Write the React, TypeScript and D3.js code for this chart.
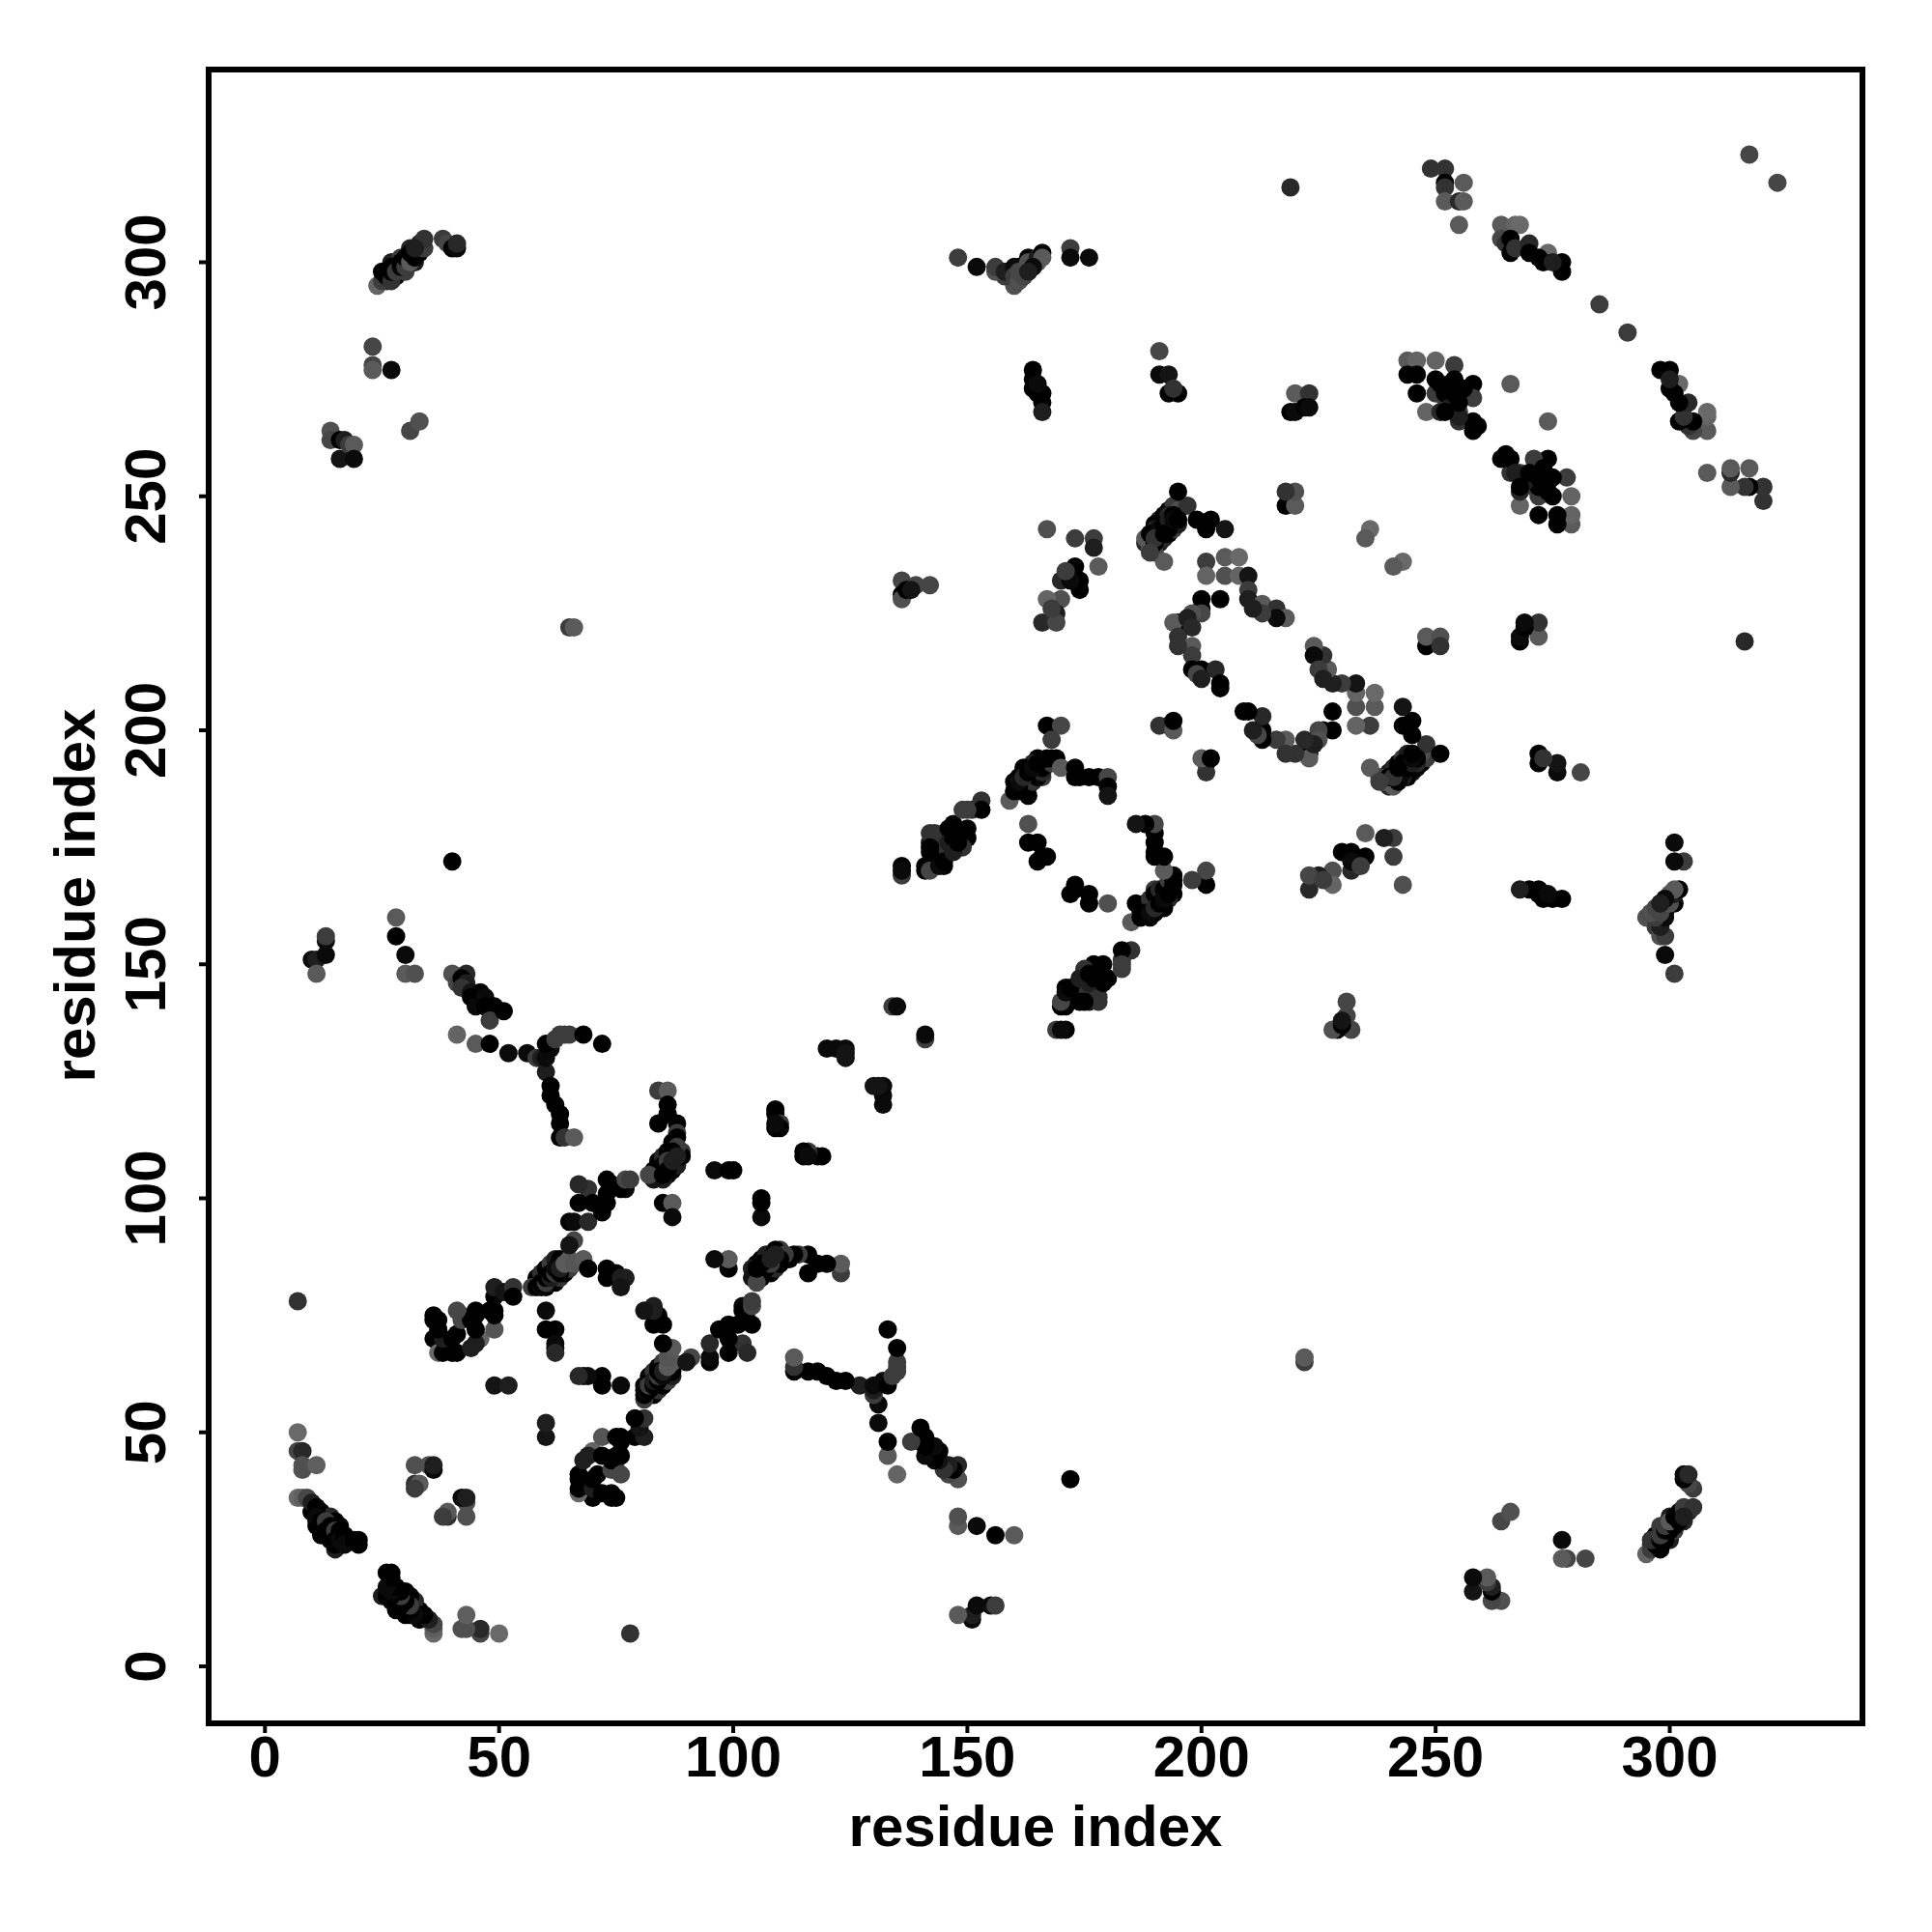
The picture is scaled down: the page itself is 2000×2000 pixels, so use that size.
import React from "react";
import * as d3 from "d3";

// Each contact: [residue i, residue j, grey level]; the map is symmetric, both (i,j) and (j,i) are drawn.
type Contact = [number, number, number];

const xTicks = [0, 50, 100, 150, 200, 250, 300];
const yTicks = [0, 50, 100, 150, 200, 250, 300];
const axisTitle = "residue index";

const strandShoulders: Contact[] = [
  [27,300,30],[29,301,60],[31,303,40],[28,297,0],[30,298,60],[32,300,30],[26,296,40],[33,302,0],
  [162,188,0],[163,189,60],[164,190,0],[165,191,30],[166,192,0],[163,192,0],[165,194,0],[164,193,40],[161,187,0],[160,189,0],[162,192,0],[161,190,0],[166,190,60],
  [190,243,0],[191,240,30],[192,241,40],[193,242,0],[194,243,60],[193,247,0],[194,248,60],[191,245,30],[189,240,60],[190,238,70],[195,244,30],[192,246,0],
  [58,83,0],[59,84,50],[60,85,0],[61,86,60],[62,87,30],[63,87,0],[60,81,0],[61,82,40],[62,82,0],[63,83,50],[64,84,0],[65,85,60],
  [84,108,0],[85,109,40],[86,110,0],[87,112,0],[86,105,0],[87,106,0],[88,107,30],[89,110,60],[89,109,0],[83,106,0],[85,104,30],
  [10,33,0],[11,30,0],[12,29,0],[13,28,0],[14,27,30],[12,33,10],[13,32,0],[14,32,40],[15,31,0],[16,30,0],
  [27,15,0],[25,15,30],[27,14,10],[29,13,0],[31,11,0],[33,10,0],[28,12,0],[30,12,0],
  [144,172,0],[146,174,0],[148,178,0],[144,175,50],[145,178,30],[147,180,0],[143,172,0],[150,177,0],
  [186,163,0],[188,163,0],[189,164,50],[190,165,0],[191,166,40],[192,166,0],[193,168,60],[194,169,0],[187,160,40],[189,161,0],[191,163,30],
  [295,160,80],[296,161,30],[297,162,0],[298,163,0],[299,164,30],[300,165,90],[297,158,60],[298,160,0],[299,161,0],[300,163,0],
  [245,192,0],[244,190,0],[243,190,30],[246,193,40],[247,195,0],[241,189,20],[243,193,0],[245,195,60],[240,188,40],
];
const hairpinStart: Contact[] = [
  [7,36,105],[8,36,95],[9,36,70],[10,35,30],[11,34,0],[11,33,0],[11,32,10],[12,31,0],[12,30,0],[13,31,60],[13,29,0],[14,30,0],[14,28,0],[15,29,60],[15,27,0],[15,26,0],[16,29,0],[16,27,10],[17,28,0],[17,26,10],[19,27,0],[20,27,0],[20,26,0],
  [7,50,105],[7,46,70],[8,46,40],[8,43,80],[8,42,80],[11,43,95],
  [32,43,80],[35,43,80],[36,42,10],[36,43,30],[32,39,50],[33,39,90],[32,38,60],
];
const sheetLeft: Contact[] = [
  [40,148,80],[43,148,40],[41,146,70],[42,147,0],[43,146,30],[42,145,50],[44,144,20],[44,143,0],[45,141,10],[46,144,0],[47,143,10],[47,141,0],[48,140,0],[49,141,0],[48,138,60],[51,140,0],[41,135,100],[45,133,90],[48,133,0],
  [52,131,10],[56,131,10],[58,130,60],[59,130,30],[60,127,30],[60,130,10],[61,132,10],[60,133,0],[62,134,60],[63,135,60],[64,135,60],[65,135,60],[68,135,0],[72,133,0],
  [61,124,0],[61,122,0],[62,120,0],[63,118,0],[63,116,0],[63,113,0],[64,113,50],[66,113,90],
];
const bandLow: Contact[] = [
  [36,74,0],[37,74,0],[36,70,0],[37,67,105],[38,67,0],[40,67,0],[41,67,0],[38,70,30],[40,70,0],[41,71,0],[42,74,70],[42,75,70],[44,74,0],[45,75,0],[44,68,30],[46,70,100],[49,72,85],[49,75,0],[48,76,0],[49,79,0],[49,81,30],[51,80,20],[53,81,50],[53,79,0],[49,60,20],[52,60,30],
  [37,72,0],[36,75,0],[41,76,70],[45,69,30],[45,72,0],[45,76,0],[49,76,0],
];
const bandMiddle: Contact[] = [
  [57,81,60],[58,81,0],[59,81,10],[59,82,0],[60,82,60],[60,83,0],[61,83,30],[61,84,0],[62,84,60],[62,85,10],[63,84,0],[63,85,30],[64,86,90],[65,87,90],[66,86,85],
  [66,91,70],[65,90,20],[65,95,0],[66,95,10],[69,95,40],[69,102,50],[70,99,0],[72,97,0],[73,99,0],[73,101,0],[73,104,0],[74,103,0],[77,103,0],[77,102,10],[76,102,0],[67,99,0],[67,103,40],[77,104,70],[78,104,60],
  [68,87,90],[69,85,0],[73,85,0],[73,83,0],[75,84,0],[76,83,30],[77,83,30],[76,81,20],
  [60,76,10],[60,72,0],[62,72,0],[62,69,10],[62,68,10],[62,67,40],
];
const bandUpper: Contact[] = [
  [84,123,60],[86,123,90],[86,120,0],[86,118,0],[84,116,0],[88,116,0],[88,114,60],[88,113,0],[88,111,60],[87,110,0],[85,107,0],[84,106,0],[83,104,20],[82,105,70],[85,105,0],[86,108,60],[86,106,0],[87,108,30],[88,109,30],[85,99,0],[87,99,90],[87,96,10],
  [96,106,10],[99,106,0],[100,106,0],
  [109,119,0],[109,118,0],[109,115,0],[110,116,60],[110,115,0],[109,116,10],[120,132,10],[122,132,10],[124,132,10],[124,130,20],[124,131,20],[134,141,60],[135,141,10],
];
const bandCentre: Contact[] = [
  [136,169,60],[136,171,0],[136,170,10],[141,170,0],[141,171,0],[142,170,70],[145,171,0],[144,171,10],[142,174,0],[142,176,30],[143,178,50],[146,179,0],[146,176,30],[147,177,0],[149,176,0],[149,175,50],[150,179,0],[149,183,60],[151,183,50],[153,185,50],[153,183,0],[145,172,0],[147,174,30],[148,176,0],[142,178,50],[142,175,0],[150,183,60],
  [159,185,90],[160,187,0],[161,188,0],[161,189,10],[162,190,40],[163,191,0],[164,192,10],[165,193,0],[167,194,0],[168,194,0],[170,192,90],[173,192,0],[173,190,0],[174,190,0],[176,190,0],[178,190,0],[180,190,70],[180,188,0],[180,186,20],
  [167,201,0],[170,201,70],[168,198,60],[163,180,80],[163,176,0],[165,176,0],[165,172,0],[166,173,0],[167,173,0],
];
const bandHigh: Contact[] = [
  [188,241,90],[189,239,90],[189,242,0],[190,240,0],[191,243,10],[192,244,0],[193,245,30],[195,247,80],[197,248,50],[195,251,0],[199,245,0],[202,245,0],[201,243,0],[205,243,20],[192,236,90],[190,241,50],[194,246,0],[189,238,60],[192,242,0],[194,245,10],[195,245,0],
  [218,248,0],[220,248,90],[220,251,80],[218,251,50],[236,243,105],[235,241,90],
  [201,236,60],[205,237,90],[208,237,105],[205,233,80],[201,233,100],[208,233,100],[210,233,20],[210,230,60],[210,228,30],[213,227,90],[216,226,50],[218,224,90],[216,224,10],[213,225,60],[211,226,30],[204,228,0],[200,228,0],[200,226,0],[200,225,70],[198,225,80],[195,223,0],[194,223,90],[195,220,50],[198,218,90],[198,216,60],[198,213,0],[200,213,0],[199,212,70],[203,213,40],[204,210,0],[204,209,0],[200,211,30],[197,224,30],[198,222,40],[195,218,50],
  [193,201,0],[191,201,50],[194,200,90],[194,202,0],
];
const farContacts: Contact[] = [
  [40,172,0],[7,78,50],[65,222,60],[66,222,90],
  [10,151,10],[11,151,30],[11,148,90],[13,152,10],[13,155,10],[13,156,60],
  [28,160,90],[28,156,0],[30,152,10],[30,148,90],[32,148,80],
  [14,264,80],[14,262,70],[16,262,0],[17,262,30],[16,258,20],[18,261,60],[19,261,90],[19,258,10],
  [23,282,70],[23,278,70],[23,277,90],[27,277,10],[31,264,70],[33,266,80],
  [24,295,100],[25,296,60],[25,298,0],[26,297,0],[27,296,50],[27,298,0],[27,299,0],[28,298,60],[29,299,10],[29,300,0],[30,299,60],[30,301,0],[31,300,90],[31,302,0],[32,301,0],[33,303,20],[33,304,40],[34,303,60],[34,305,50],[32,303,30],[38,305,60],[39,304,70],[40,303,0],[41,303,10],[41,304,40],
  [136,232,70],[139,231,70],[142,231,70],[136,229,0],[136,228,80],[137,230,0],[138,230,20],
  [167,243,80],[173,241,60],[177,241,60],[177,239,30],[173,235,0],[178,235,90],[170,232,40],[174,232,0],[174,230,0],[172,232,10],[170,228,80],[167,228,100],[169,225,30],[166,223,40],[169,223,70],[171,234,60],[168,226,60],
];
const topContacts: Contact[] = [
  [148,301,60],[152,299,10],[156,298,80],[156,299,60],[158,298,30],[160,299,10],[160,297,60],[161,296,80],[161,298,70],[162,297,70],[163,301,0],[163,300,80],[165,301,30],[166,302,0],[166,301,90],[172,303,60],[172,301,10],[176,301,10],[164,299,10],[163,298,30],
  [164,277,0],[164,275,0],[164,273,0],[165,272,0],[166,272,0],[166,270,0],[166,268,30],[165,274,10],
  [191,281,70],[191,276,10],[193,276,20],[193,272,0],[195,272,0],[194,273,50],
  [219,268,0],[220,268,10],[220,272,90],[223,272,50],[222,269,0],[223,269,10],[219,316,40],
  [249,320,50],[252,320,50],[256,317,90],[252,317,0],[252,316,50],[252,313,90],[255,313,40],[256,313,90],[255,308,90],[317,323,70],[285,291,60],
  [264,308,90],[267,308,100],[268,308,105],[264,305,70],[265,304,50],[266,302,0],[266,305,0],[267,303,50],[270,304,40],[270,302,0],[274,302,105],[273,300,0],[277,300,0],[277,298,0],[272,301,0],[275,300,30],
];
const clusterRight: Contact[] = [
  [244,279,90],[246,279,100],[250,279,100],[254,278,60],[244,276,0],[246,276,0],[246,272,0],[250,272,60],[252,271,60],[253,274,30],[250,275,0],[251,274,0],[254,275,0],[258,274,0],[252,272,0],[255,271,0],[258,271,60],[248,268,100],[251,268,40],[253,269,30],[255,268,70],[255,266,50],[258,266,0],[258,264,0],[259,265,0],[255,267,30],[252,268,0],[256,273,0],[266,274,90],[254,272,0],[255,270,0],
];

const contacts: Contact[] = [
  ...strandShoulders, ...hairpinStart, ...sheetLeft, ...bandLow, ...bandMiddle, ...bandUpper,
  ...bandCentre, ...bandHigh, ...farContacts, ...topContacts, ...clusterRight,
];

export default function App() {
  const x = d3.scaleLinear().domain([0, 300]).range([274.3, 1728.5]);
  const y = d3.scaleLinear().domain([0, 300]).range([1725, 271.5]);
  const grey = (g: number) => d3.rgb(g, g, g).formatRgb();
  const font = "'Liberation Sans', Arial, sans-serif";
  const box = { left: 216, right: 1928, top: 72, bottom: 1784 };
  const tickFont = 60;
  const titleFont = 60;
  return (
    <svg width={2000} height={2000} viewBox="0 0 2000 2000"
      style={{ position: "absolute", left: 0, top: 0, background: "#fff" }}>
      <g>
        {contacts.flatMap(([i, j, g], k) => [
          <circle key={`a${k}`} cx={x(i)} cy={y(j)} r={9.5} fill={grey(g)} />,
          <circle key={`b${k}`} cx={x(j)} cy={y(i)} r={9.5} fill={grey(g)} />,
        ])}
      </g>
      <rect x={box.left} y={box.top} width={box.right - box.left} height={box.bottom - box.top}
        fill="none" stroke="#000" strokeWidth={6} />
      {xTicks.map((t) => (
        <g key={t}>
          <line x1={x(t)} x2={x(t)} y1={box.bottom} y2={box.bottom + 10} stroke="#000" strokeWidth={4} />
          <text x={x(t)} y={1839} textAnchor="middle" fontFamily={font} fontWeight="bold" fontSize={tickFont}>{t}</text>
        </g>
      ))}
      {yTicks.map((t) => (
        <g key={t}>
          <line x1={box.left - 10} x2={box.left} y1={y(t)} y2={y(t)} stroke="#000" strokeWidth={4} />
          <text transform={`translate(171,${y(t)}) rotate(-90)`} textAnchor="middle" fontFamily={font} fontWeight="bold" fontSize={tickFont}>{t}</text>
        </g>
      ))}
      <text x={1072} y={1911} textAnchor="middle" fontFamily={font} fontWeight="bold" fontSize={titleFont}>{axisTitle}</text>
      <text transform="translate(98,927) rotate(-90)" textAnchor="middle" fontFamily={font} fontWeight="bold" fontSize={titleFont}>{axisTitle}</text>
    </svg>
  );
}
